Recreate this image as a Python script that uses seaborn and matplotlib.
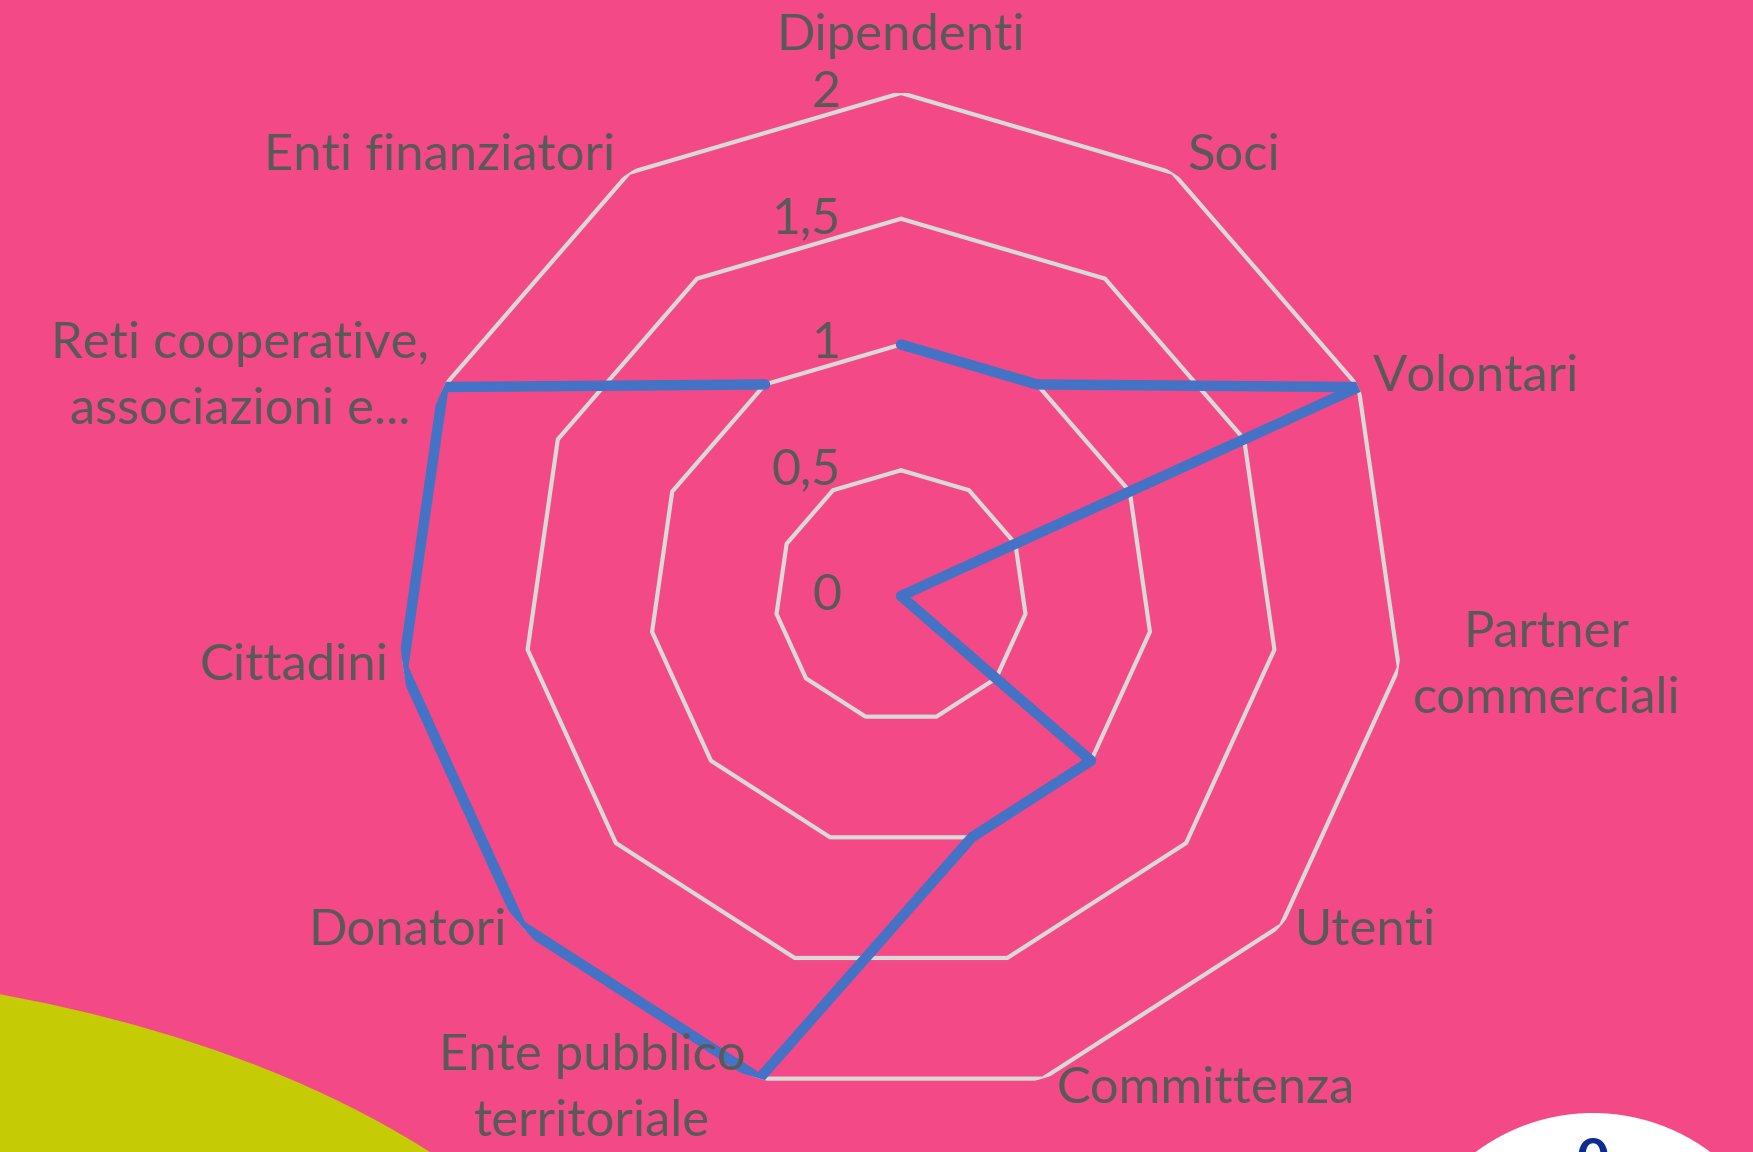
import numpy as np
import pandas as pd
import seaborn as sns
import matplotlib.pyplot as plt
from matplotlib.patches import Ellipse, Circle

categories = ["Dipendenti", "Soci", "Volontari", "Partner\ncommerciali", "Utenti",
              "Committenza", "Ente pubblico\nterritoriale", "Donatori", "Cittadini",
              "Reti cooperative,\nassociazioni e...", "Enti finanziatori"]
values = [1, 1, 2, 0, 1, 1, 2, 2, 2, 2, 1]
tick_values = [0, 0.5, 1, 1.5, 2]
tick_labels = ["0", "0,5", "1", "1,5", "2"]

PINK = "#F34A87"
TEXT = "#595959"

sns.set_theme(style="white")
plt.rcParams["font.family"] = ["Lato", "DejaVu Sans"]

W, H = 1753, 1152
fig = plt.figure(figsize=(W / 100, H / 100), dpi=100)
fig.patch.set_facecolor(PINK)

# background decorations
fig.patches.append(Ellipse((-300, H - 1500), 1930, 1064, transform=None,
                           facecolor="#C5CC06", edgecolor="none", zorder=0))
fig.patches.append(Circle((1593, H - 1309), 196, transform=None,
                          facecolor="white", edgecolor="none", zorder=0))
fig.text(1593 / W, 15 / H, "0", ha="center", va="top", fontsize=40,
         fontweight="bold", color="#0D2C91")

cx, cy, rad = 901, H - 596, 503
ax = fig.add_axes([(cx - rad) / W, (cy - rad) / H, 2 * rad / W, 2 * rad / H],
                  projection="polar")
ax.set_facecolor("none")
ax.set_theta_offset(np.pi / 2)
ax.set_theta_direction(-1)

n = len(categories)
theta = np.arange(n) * 2 * np.pi / n
theta_closed = np.append(theta, theta[0])

# polygon gridlines
for lvl in tick_values[1:]:
    ax.plot(theta_closed, [lvl] * (n + 1), color="#D9D9D9", lw=3, zorder=1)

df = pd.DataFrame({"theta": theta_closed, "value": values + values[:1]})
sns.lineplot(data=df, x="theta", y="value", sort=False, ax=ax,
             color="#4472C4", lw=7.5, zorder=3)

ax.set_ylim(0, 2)
ax.set_xticks([])
ax.set_yticks([])
ax.grid(False)
ax.spines["polar"].set_visible(False)
ax.set_xlabel("")
ax.set_ylabel("")

for v, lab in zip(tick_values, tick_labels):
    ax.annotate(lab, xy=(0, v), xytext=(-60, 0), textcoords="offset pixels",
                ha="right", va="center", fontsize=36, color=TEXT, zorder=4)

for t, lab in zip(theta, categories):
    s, c = np.sin(t), np.cos(t)
    if abs(s) < 0.1:
        ha, va, off = "center", "bottom", (0, 34)
    else:
        ha = "left" if s > 0 else "right"
        va = "center"
        off = (14 * np.sign(s), 4 + 15 * c)
    ax.annotate(lab, xy=(t, 2), xytext=off, textcoords="offset pixels",
                ha=ha, va=va, multialignment="center", fontsize=36.5,
                color=TEXT, linespacing=1.55, zorder=5, annotation_clip=False)

fig.savefig("out.png", dpi=100, facecolor=PINK)
